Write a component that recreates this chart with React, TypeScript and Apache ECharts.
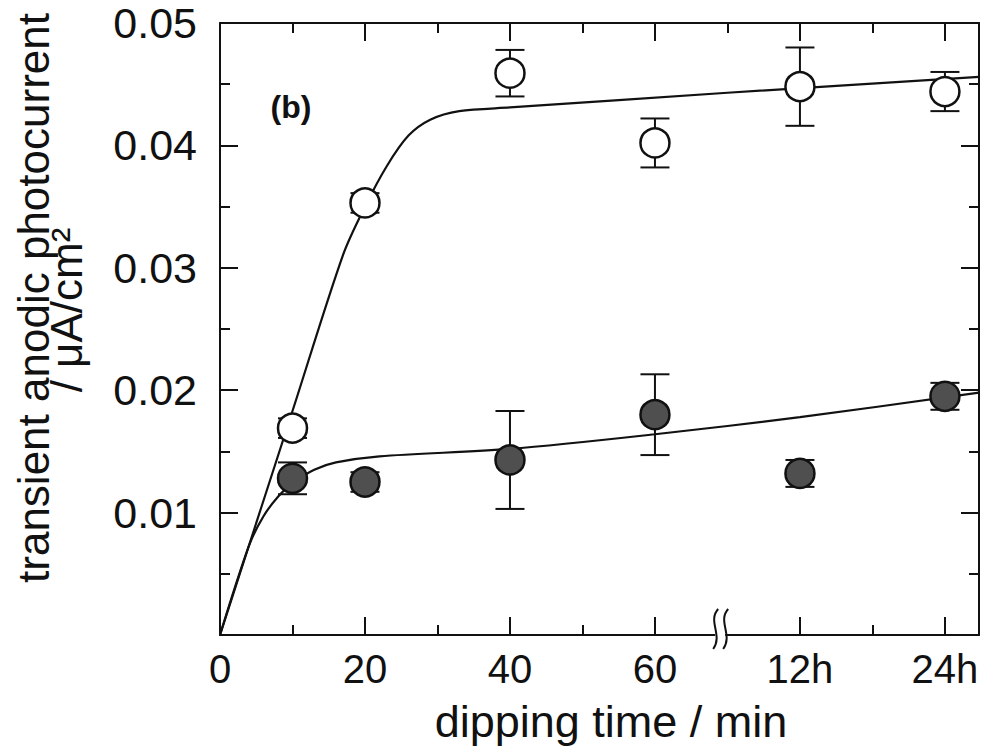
import React, { useEffect, useRef } from "react";
import * as echarts from "echarts";

// ---- data ----
// x positions: 0..60 min on a linear scale, then 12h -> 80, 24h -> 100 (axis break between 60 and 12h)
const X_MAX = 104.7;
const xMajorTicks = [0, 20, 40, 60, 80, 100];
const xMajorLabels = ["0", "20", "40", "60", "12h", "24h"];
const xMinorBottom = [10, 30, 50, 90];
const xMinorTop = [10, 30, 50, 70, 90];
const yMajorTicks = [0.01, 0.02, 0.03, 0.04];
const yLabelValues = [0.01, 0.02, 0.03, 0.04, 0.05];
const yMinorTicks = [0.005, 0.015, 0.025, 0.035, 0.045];

const pointX = [10, 20, 40, 60, 80, 100];
const openValues = [0.0169, 0.0353, 0.0459, 0.0402, 0.0448, 0.0444];
const openErrors = [0.0008, 0.0008, 0.0019, 0.002, 0.0032, 0.0016];
const filledValues = [0.0128, 0.0125, 0.0143, 0.018, 0.0132, 0.0195];
const filledErrors = [0.0013, 0.0008, 0.004, 0.0033, 0.0011, 0.0011];

const fitOpenX = [0, 10, 17, 20, 23, 26, 29, 33, 40, 70, 104.7];
const fitOpenY = [0, 0.0183, 0.0311, 0.035, 0.0383, 0.0408, 0.0421, 0.0428, 0.0431, 0.0443, 0.0456];
const fitFilledX = [0, 4, 6, 8, 10, 13, 16, 22, 40, 60, 80, 104.7];
const fitFilledY = [0, 0.0073, 0.0097, 0.0113, 0.0124, 0.0135, 0.0141, 0.0146, 0.0152, 0.0164, 0.0178, 0.0198];

const breakAt = [69];

const yTitle1 = "transient anodic photocurrent";
const yTitle2 = "/ μA/cm²";
const xTitle = "dipping time / min";
const panelLabel = "(b)";

const FONT = "'Liberation Sans', Arial, Helvetica, sans-serif";
const INK = "#111";

export default function App() {
  const ref = useRef<HTMLDivElement>(null);

  useEffect(() => {
    if (!ref.current) return;
    const chart = echarts.init(ref.current, null, { renderer: "svg" });

    const zip = (xs: number[], ys: number[]) => xs.map((x, i) => [x, ys[i]]);
    const errData = (vals: number[], errs: number[]) => pointX.map((x, i) => [x, vals[i], errs[i]]);

    const errorRender = (params: any, api: any) => {
      const x = api.value(0);
      const y = api.value(1);
      const e = api.value(2);
      const top = api.coord([x, y + e]);
      const bot = api.coord([x, y - e]);
      const w = 14.5;
      const st = { stroke: INK, lineWidth: 2 };
      return {
        type: "group",
        children: [
          { type: "line", shape: { x1: top[0], y1: top[1], x2: bot[0], y2: bot[1] }, style: st },
          { type: "line", shape: { x1: top[0] - w, y1: top[1], x2: top[0] + w, y2: top[1] }, style: st },
          { type: "line", shape: { x1: bot[0] - w, y1: bot[1], x2: bot[0] + w, y2: bot[1] }, style: st },
        ],
      };
    };

    const breakRender = (params: any, api: any) => {
      const p = api.coord([api.value(0), 0]);
      const cx = p[0];
      const cy = p[1] - 6;
      const s = (ox: number) =>
        `M ${ox + 3} ${cy - 20} C ${ox - 8} ${cy - 8}, ${ox + 8} ${cy + 6}, ${ox - 2} ${cy + 20}`;
      return {
        type: "group",
        children: [
          { type: "rect", shape: { x: cx - 5, y: p[1] - 3, width: 10, height: 6 }, style: { fill: "#fff" } },
          { type: "path", shape: { pathData: s(cx - 5) }, style: { stroke: INK, lineWidth: 2, fill: "none" } },
          { type: "path", shape: { pathData: s(cx + 5) }, style: { stroke: INK, lineWidth: 2, fill: "none" } },
        ],
      };
    };

    const baseAxisLine = { show: true, onZero: false, lineStyle: { color: INK, width: 2 } };
    const tickStyle = { color: INK, width: 2 };

    const xAxisCommon = { type: "value", min: 0, max: X_MAX, splitLine: { show: false } };
    const yAxisCommon = { type: "value", min: 0, max: 0.05, splitLine: { show: false } };

    const option: any = {
      animation: false,
      backgroundColor: "#fff",
      grid: { left: 220, right: 6, top: 23, bottom: 113, containLabel: false, outerBoundsMode: "none" },
      xAxis: [
        {
          ...xAxisCommon,
          position: "bottom",
          axisLine: baseAxisLine,
          axisTick: { show: true, inside: true, length: 18, customValues: xMajorTicks, lineStyle: tickStyle },
          axisLabel: {
            show: true,
            customValues: xMajorTicks,
            margin: 14,
            fontSize: 40,
            fontFamily: FONT,
            color: INK,
            formatter: (v: number) => {
              const i = xMajorTicks.indexOf(v);
              return i >= 0 ? xMajorLabels[i] : "";
            },
          },
        },
        {
          ...xAxisCommon,
          position: "bottom",
          axisLine: { show: false, onZero: false },
          axisTick: { show: true, inside: true, length: 10, customValues: xMinorBottom, lineStyle: tickStyle },
          axisLabel: { show: false },
        },
        {
          ...xAxisCommon,
          position: "top",
          axisLine: baseAxisLine,
          axisTick: { show: true, inside: true, length: 18, customValues: xMajorTicks, lineStyle: tickStyle },
          axisLabel: { show: false },
        },
        {
          ...xAxisCommon,
          position: "top",
          axisLine: { show: false, onZero: false },
          axisTick: { show: true, inside: true, length: 10, customValues: xMinorTop, lineStyle: tickStyle },
          axisLabel: { show: false },
        },
      ],
      yAxis: [
        {
          ...yAxisCommon,
          position: "left",
          axisLine: baseAxisLine,
          axisTick: { show: true, inside: true, length: 18, customValues: yMajorTicks, lineStyle: tickStyle },
          axisLabel: {
            show: true,
            customValues: yLabelValues,
            margin: 23,
            fontSize: 43,
            fontFamily: FONT,
            color: INK,
            formatter: (v: number) => v.toFixed(2),
          },
        },
        {
          ...yAxisCommon,
          position: "left",
          axisLine: { show: false, onZero: false },
          axisTick: { show: true, inside: true, length: 10, customValues: yMinorTicks, lineStyle: tickStyle },
          axisLabel: { show: false },
        },
        {
          ...yAxisCommon,
          position: "right",
          axisLine: baseAxisLine,
          axisTick: { show: true, inside: true, length: 18, customValues: yMajorTicks, lineStyle: tickStyle },
          axisLabel: { show: false },
        },
        {
          ...yAxisCommon,
          position: "right",
          axisLine: { show: false, onZero: false },
          axisTick: { show: true, inside: true, length: 10, customValues: yMinorTicks, lineStyle: tickStyle },
          axisLabel: { show: false },
        },
      ],
      series: [
        {
          type: "custom",
          name: "open error",
          renderItem: errorRender,
          data: errData(openValues, openErrors),
          z: 2,
          silent: true,
        },
        {
          type: "custom",
          name: "filled error",
          renderItem: errorRender,
          data: errData(filledValues, filledErrors),
          z: 2,
          silent: true,
        },
        {
          type: "line",
          name: "fit open",
          data: zip(fitOpenX, fitOpenY),
          smooth: 0.3,
          showSymbol: false,
          lineStyle: { color: INK, width: 2.2 },
          z: 3,
          silent: true,
        },
        {
          type: "line",
          name: "fit filled",
          data: zip(fitFilledX, fitFilledY),
          smooth: 0.3,
          showSymbol: false,
          lineStyle: { color: INK, width: 2.2 },
          z: 3,
          silent: true,
        },
        {
          type: "scatter",
          name: "open",
          data: zip(pointX, openValues),
          symbol: "circle",
          symbolSize: 29,
          itemStyle: { color: "#fff", borderColor: INK, borderWidth: 2.5, opacity: 1 },
          z: 4,
        },
        {
          type: "scatter",
          name: "filled",
          data: zip(pointX, filledValues),
          symbol: "circle",
          symbolSize: 29,
          itemStyle: { color: "#4f4f4f", borderColor: INK, borderWidth: 2.5, opacity: 1 },
          z: 4,
        },
        {
          type: "custom",
          name: "axis break",
          renderItem: breakRender,
          data: breakAt.map((x) => [x, 0]),
          z: 5,
          silent: true,
        },
      ],
      graphic: [
        {
          type: "text",
          x: 33,
          y: 298,
          rotation: Math.PI / 2,
          style: {
            text: yTitle1,
            fontSize: 44,
            fontFamily: FONT,
            fill: INK,
            textAlign: "center",
            textVerticalAlign: "middle",
          },
        },
        {
          type: "text",
          x: 66,
          y: 310,
          rotation: Math.PI / 2,
          style: {
            text: yTitle2,
            fontSize: 44,
            fontFamily: FONT,
            fill: INK,
            textAlign: "center",
            textVerticalAlign: "middle",
          },
        },
        {
          type: "text",
          x: 611,
          y: 721,
          style: {
            text: xTitle,
            fontSize: 45,
            fontFamily: FONT,
            fill: INK,
            textAlign: "center",
            textVerticalAlign: "middle",
          },
        },
        {
          type: "text",
          x: 291,
          y: 107,
          style: {
            text: panelLabel,
            fontSize: 32,
            fontWeight: "bold",
            fontFamily: FONT,
            fill: INK,
            textAlign: "center",
            textVerticalAlign: "middle",
          },
        },
      ],
    };

    chart.setOption(option);
    return () => chart.dispose();
  }, []);

  return (
    <div
      ref={ref}
      style={{ position: "absolute", left: 0, top: 0, width: 985, height: 748, background: "#fff" }}
    />
  );
}
